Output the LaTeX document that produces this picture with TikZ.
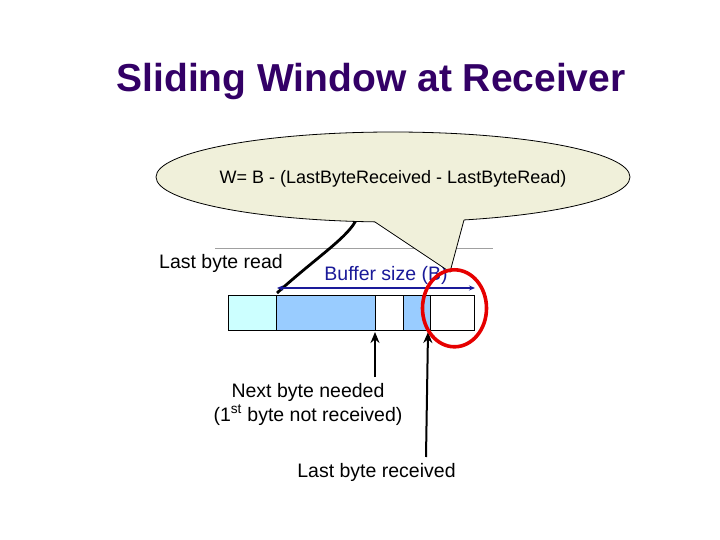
\documentclass[tikz,border=0pt]{standalone}
\usepackage{fontspec}
\setmainfont{Liberation Sans}
\usetikzlibrary{arrows.meta}
\definecolor{titlecol}{RGB}{51,0,102}
\definecolor{calloutfill}{RGB}{240,240,218}
\definecolor{bufblue}{RGB}{26,26,153}
\definecolor{lightcyan}{RGB}{204,255,255}
\definecolor{lightblue}{RGB}{153,204,255}
\definecolor{grayline}{RGB}{160,160,160}
\definecolor{circred}{RGB}{230,0,0}
\tikzset{
  lbl/.style={anchor=base, inner sep=0pt, font=\fontsize{19.5}{22}\selectfont},
  cell/.style={draw=black, line width=0.9pt, inner sep=0pt, minimum height=35pt},
  uparrow/.style={draw=black, line width=2pt, -{Stealth[length=11pt,width=9pt]}},
}
\begin{document}
\begin{tikzpicture}[x=1pt,y=-1pt]
\useasboundingbox (0,0) rectangle (720,540);
\fill[white] (0,0) rectangle (720,540);

% title
\node[anchor=base, inner sep=0pt, text=titlecol, font=\fontsize{39}{44}\selectfont\bfseries] (title) at (371,91.5) {Sliding Window at Receiver};

% gray line
\coordinate (gl1) at (215,248);
\coordinate (gl2) at (493,248);
\draw[grayline, line width=1pt] (gl1) -- (gl2);

% labels
\node[lbl] (lastread) at (221,268) {Last byte read};
\node[lbl, text=bufblue] (bufsize) at (386,280) {Buffer size (B)};
\node[lbl] (nextneeded) at (308,397.5) {Next byte needed};
\node[lbl] (notrecv) at (308,421.5) {(1\textsuperscript{st} byte not received)};
\node[lbl] (lastrecv) at (376.5,477.5) {Last byte received};

% buffer cells
\node[cell, fill=lightcyan, minimum width=48.7pt] (c1) at (252.35,312.5) {};
\node[cell, fill=lightblue, minimum width=98.3pt] (c2) at (325.85,312.5) {};
\node[cell, fill=white, minimum width=28.3pt] (c3) at (389.15,312.5) {};
\node[cell, fill=lightblue, minimum width=27.2pt] (c4) at (416.9,312.5) {};
\node[cell, fill=white, minimum width=43.5pt] (c5) at (452.25,312.5) {};

% black curve from callout to last byte read
\coordinate (curvetop) at (357,218);
\coordinate (curvebot) at (277,293);
\draw[black, line width=2.8pt] (curvetop) .. controls (350,236) and (318,256) .. (curvebot);

% buffer size arrow
\coordinate (bs1) at (277,288);
\coordinate (bs2) at (475,288);
\draw[bufblue, line width=1.6pt, {Stealth[length=6pt,width=5pt]}-{Stealth[length=6pt,width=5pt]}] (bs1) -- (bs2);

% up arrows
\coordinate (a1b) at (375,377);
\coordinate (a1t) at (375,332);
\coordinate (a2b) at (426,457);
\coordinate (a2t) at (428,332);
\draw[uparrow] (a1b) -- (a1t);
\draw[uparrow] (a2b) -- (a2t);

% callout
\filldraw[fill=calloutfill, draw=black, line width=0.8pt] (393,177) ellipse [x radius=237, y radius=45];
\node[anchor=base, inner sep=0pt, font=\fontsize{18}{21}\selectfont] (formula) at (393,183.3) {W= B - (LastByteReceived - LastByteRead)};
\coordinate (tl) at (375,222);
\coordinate (tip) at (450,272);
\coordinate (tr) at (464,220);
\fill[calloutfill] (tl) -- (tip) -- (tr) -- (464,213) -- (375,213) -- cycle;
\draw[black, line width=0.8pt] (tl) -- (tip) -- (tr);

% red circle
\draw[circred, line width=3.6pt] (454.5,308.3) ellipse [x radius=32, y radius=38.5];
\end{tikzpicture}
\end{document}
